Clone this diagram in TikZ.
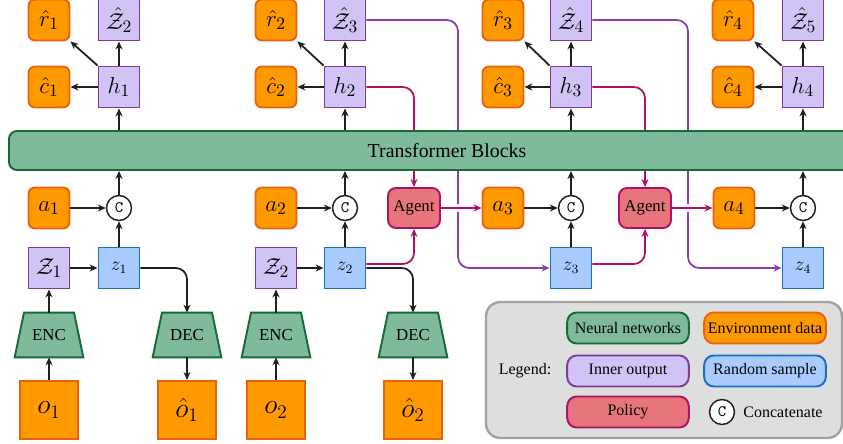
\documentclass[tikz,border=0pt]{standalone}
\usepackage[no-math]{fontspec}
\setmainfont{Liberation Serif}
\usepackage{amsmath}
\usepackage{amsfonts}
\usetikzlibrary{arrows.meta,backgrounds}

\definecolor{envfill}{HTML}{FF9900}
\definecolor{envline}{HTML}{E8620F}
\definecolor{innfill}{HTML}{D2C3F7}
\definecolor{innline}{HTML}{7E3C98}
\definecolor{smpfill}{HTML}{A9CBFD}
\definecolor{smpline}{HTML}{1B6FBD}
\definecolor{netfill}{HTML}{7FBA9B}
\definecolor{netline}{HTML}{17693A}
\definecolor{polfill}{HTML}{E8757C}
\definecolor{polline}{HTML}{AE1166}
\definecolor{pathline}{HTML}{8B3FA6}
\definecolor{arrline}{HTML}{231F20}
\definecolor{legfill}{HTML}{DDDEDE}
\definecolor{legline}{HTML}{A2A2A2}

\tikzset{
  box/.style={line width=1.2pt, minimum size=25.6pt, inner sep=0pt},
  env/.style={box, draw=envline, fill=envfill, rounded corners=4pt, font=\fontsize{15}{17}\selectfont},
  obs/.style={box, draw=envline, fill=envfill, minimum size=36.3pt, font=\LARGE},
  inn/.style={box, draw=innline, fill=innfill, font=\fontsize{15}{17}\selectfont},
  smp/.style={box, draw=smpline, fill=smpfill, font=\large},
  coder/.style={minimum width=42.5pt, minimum height=27.5pt, inner sep=0pt,
    font=\fontsize{10.5}{12}\selectfont},
  coderbody/.style={draw=netline, fill=netfill, line width=1.2pt},
  blocks/.style={line width=1.2pt, draw=netline, fill=netfill, rounded corners=5pt,
    minimum width=547.5pt, minimum height=24.4pt, font=\fontsize{12.4}{14}\selectfont},
  pol/.style={line width=1.2pt, draw=polline, fill=polfill, rounded corners=5pt,
    minimum width=32.5pt, minimum height=25pt, inner sep=0pt, font=\fontsize{10.5}{12}\selectfont},
  cat/.style={circle, draw=arrline, fill=white, line width=0.9pt, minimum size=15.6pt,
    inner sep=0pt, font=\ttfamily},
  keybox/.style={line width=1.2pt, rounded corners=6pt, minimum width=76pt,
    minimum height=19.4pt, inner sep=0pt},
  arr/.style={-{Stealth[length=5pt,width=4.4pt]}, line width=1.1pt, draw=arrline},
  polarr/.style={arr, draw=polline, rounded corners=7pt},
  patharr/.style={arr, draw=pathline, rounded corners=7pt}
}

\begin{document}
\begin{tikzpicture}[x=0.625pt, y=-0.625pt]
  \useasboundingbox (0,0) rectangle (843,444);
  \clip (0,0) rectangle (843,444);

  \node[env] (r1) at (49,20) {$\hat{r}_1$};
  \node[inn] (zh2) at (119,20) {$\hat{\mathcal{Z}}_2$};
  \node[env] (r2) at (276,20) {$\hat{r}_2$};
  \node[inn] (zh3) at (345,20) {$\hat{\mathcal{Z}}_3$};
  \node[env] (r3) at (503,20) {$\hat{r}_3$};
  \node[inn] (zh4) at (571,20) {$\hat{\mathcal{Z}}_4$};
  \node[env] (r4) at (733,20) {$\hat{r}_4$};
  \node[inn] (zh5) at (803,20) {$\hat{\mathcal{Z}}_5$};

  \node[env] (c1) at (49,87) {$\hat{c}_1$};
  \node[inn] (h1) at (119,87) {$h_1$};
  \node[env] (c2) at (276,87) {$\hat{c}_2$};
  \node[inn] (h2) at (345,87) {$h_2$};
  \node[env] (c3) at (503,87) {$\hat{c}_3$};
  \node[inn] (h3) at (571,87) {$h_3$};
  \node[env] (c4) at (733,87) {$\hat{c}_4$};
  \node[inn] (h4) at (803,87) {$h_4$};

  \node[blocks] (tb) at (447,150.5) {Transformer Blocks};

  \node[env] (a1) at (49,208) {$a_1$};
  \node[cat] (cat1) at (119,208) {C};
  \node[env] (a2) at (276,208) {$a_2$};
  \node[cat] (cat2) at (345,208) {C};
  \node[pol] (ag1) at (414,208) {Agent};
  \node[env] (a3) at (503,208) {$a_3$};
  \node[cat] (cat3) at (571,208) {C};
  \node[pol] (ag2) at (645,208) {Agent};
  \node[env] (a4) at (734,208) {$a_4$};
  \node[cat] (cat4) at (803,208) {C};

  \node[inn] (Z1) at (49,268) {$\mathcal{Z}_1$};
  \node[smp] (z1) at (119,268) {$z_1$};
  \node[inn] (Z2) at (276,268) {$\mathcal{Z}_2$};
  \node[smp] (z2) at (345,268) {$z_2$};
  \node[smp] (z3) at (571,268) {$z_3$};
  \node[smp] (z4) at (803,268) {$z_4$};

  \node[coder] (enc1) at (49,335) {ENC};
  \node[coder] (dec1) at (187,335) {DEC};
  \node[coder] (enc2) at (276,335) {ENC};
  \node[coder] (dec2) at (413,335) {DEC};

  \node[obs] (o1) at (49,410) {$o_1$};
  \node[obs] (oh1) at (187,410) {$\hat{o}_1$};
  \node[obs] (o2) at (276,410) {$o_2$};
  \node[obs] (oh2) at (413,410) {$\hat{o}_2$};

  \coordinate (k3) at (458,0);
  \coordinate (k4) at (688,0);

  \draw[arr] (o1) -- (enc1);
  \draw[arr] (enc1) -- (Z1);
  \draw[arr] (Z1) -- (z1);
  \draw[arr] (z1) -- (cat1);
  \draw[arr] (a1) -- (cat1);
  \draw[arr] (cat1) -- (cat1 |- tb.south);
  \draw[arr] (h1 |- tb.north) -- (h1);
  \draw[arr] (h1) -- (c1);
  \draw[arr] (h1.north west) -- (r1.south east);
  \draw[arr] (h1) -- (zh2);
  \draw[arr, rounded corners=7pt] (z1.east) -| (dec1.north);
  \draw[arr] (dec1) -- (oh1);

  \draw[arr] (o2) -- (enc2);
  \draw[arr] (enc2) -- (Z2);
  \draw[arr] (Z2) -- (z2);
  \draw[arr] (z2) -- (cat2);
  \draw[arr] (a2) -- (cat2);
  \draw[arr] (cat2) -- (cat2 |- tb.south);
  \draw[arr] (h2 |- tb.north) -- (h2);
  \draw[arr] (h2) -- (c2);
  \draw[arr] (h2.north west) -- (r2.south east);
  \draw[arr] (h2) -- (zh3);
  \draw[arr, rounded corners=7pt] (z2.east) -| (dec2.north);
  \draw[arr] (dec2) -- (oh2);

  \draw[arr] (z3) -- (cat3);
  \draw[arr] (a3) -- (cat3);
  \draw[arr] (cat3) -- (cat3 |- tb.south);
  \draw[arr] (h3 |- tb.north) -- (h3);
  \draw[arr] (h3) -- (c3);
  \draw[arr] (h3.north west) -- (r3.south east);
  \draw[arr] (h3) -- (zh4);

  \draw[arr] (z4) -- (cat4);
  \draw[arr] (a4) -- (cat4);
  \draw[arr] (cat4) -- (cat4 |- tb.south);
  \draw[arr] (h4 |- tb.north) -- (h4);
  \draw[arr] (h4) -- (c4);
  \draw[arr] (h4.north west) -- (r4.south east);
  \draw[arr] (h4) -- (zh5);

  \begin{pgfonlayer}{background}
    \draw[coderbody] ([xshift=5.8pt]enc1.north west) -- ([xshift=-5.8pt]enc1.north east)
      -- (enc1.south east) -- (enc1.south west) -- cycle;
    \draw[coderbody] ([xshift=5.8pt]dec1.north west) -- ([xshift=-5.8pt]dec1.north east)
      -- (dec1.south east) -- (dec1.south west) -- cycle;
    \draw[coderbody] ([xshift=5.8pt]enc2.north west) -- ([xshift=-5.8pt]enc2.north east)
      -- (enc2.south east) -- (enc2.south west) -- cycle;
    \draw[coderbody] ([xshift=5.8pt]dec2.north west) -- ([xshift=-5.8pt]dec2.north east)
      -- (dec2.south east) -- (dec2.south west) -- cycle;
    \draw[patharr] (zh3.east) -| (k3 |- z3.west) -- (z3.west);
    \draw[patharr] (zh4.east) -| (k4 |- z4.west) -- (z4.west);
    \draw[polarr] ([yshift=2.5pt]z2.east) -| (ag1.south);
    \draw[polarr] (h2.east) -| (ag1.north);
    \draw[polarr] ([yshift=2.5pt]z3.east) -| (ag2.south);
    \draw[polarr] (h3.east) -| (ag2.north);
    \draw[white, line width=4.5pt] (ag1) -- (a3);
    \draw[white, line width=4.5pt] (ag2) -- (a4);
    \draw[polarr] (ag1) -- (a3);
    \draw[polarr] (ag2) -- (a4);
  \end{pgfonlayer}

  \node[draw=legline, fill=legfill, line width=1.5pt, rounded corners=9pt,
    minimum width=222.5pt, minimum height=85pt] (legend) at (664,370) {};
  \node (lhead) at (525,371) {Legend:};
  \node[keybox, draw=netline, fill=netfill] (lnet) at (628,328) {Neural networks};
  \node[keybox, draw=envline, fill=envfill] (lenv) at (765,328) {Environment data};
  \node[keybox, draw=innline, fill=innfill] (linn) at (628,371) {Inner output};
  \node[keybox, draw=smpline, fill=smpfill] (lsmp) at (765,371) {Random sample};
  \node[keybox, draw=polline, fill=polfill] (lpol) at (628,412) {Policy};
  \node[cat] (lcat) at (722,412) {C};
  \node (lcattext) at (783,412) {Concatenate};
\end{tikzpicture}
\end{document}
